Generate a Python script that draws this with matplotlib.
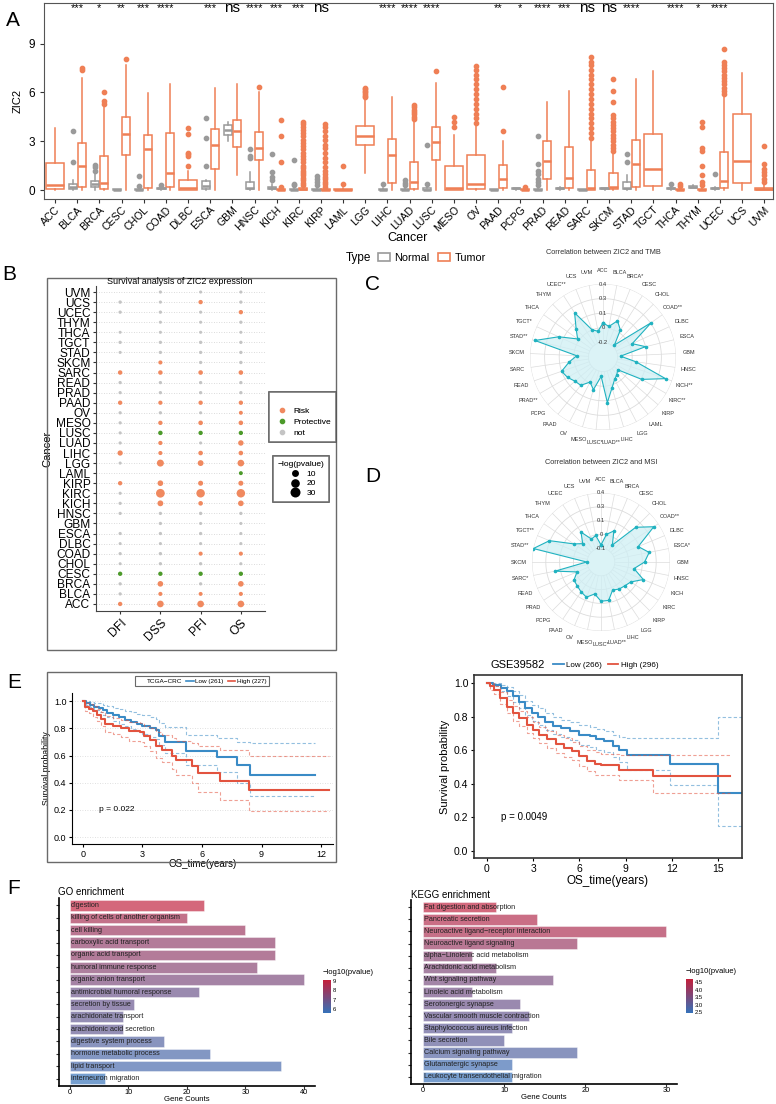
import numpy as np
import matplotlib
matplotlib.use("Agg")
import matplotlib.pyplot as plt
from matplotlib.patches import Rectangle, Patch
from matplotlib.lines import Line2D
from matplotlib.colors import LinearSegmentedColormap, Normalize
from matplotlib.cm import ScalarMappable

plt.rcParams['font.family'] = ['Liberation Sans', 'DejaVu Sans']

# ---------------- data: panel A (expression boxplots) ----------------
cancers = ["ACC", "BLCA", "BRCA", "CESC", "CHOL", "COAD", "DLBC", "ESCA", "GBM", "HNSC",
           "KICH", "KIRC", "KIRP", "LAML", "LGG", "LIHC", "LUAD", "LUSC", "MESO", "OV",
           "PAAD", "PCPG", "PRAD", "READ", "SARC", "SKCM", "STAD", "TGCT", "THCA", "THYM",
           "UCEC", "UCS", "UVM"]
signif = ["", "***", "*", "**", "***", "****", "", "***", "ns", "****",
          "***", "***", "ns", "", "", "****", "****", "****", "", "",
          "**", "*", "****", "***", "ns", "ns", "****", "", "****", "*",
          "****", "", ""]
# (whislo, q1, median, q3, whishi)
tumor_box = {
    "ACC": (0, 0.05, 0.3, 1.65, 3.8), "BLCA": (0, 0.2, 1.5, 2.9, 6.9),
    "BRCA": (0, 0.08, 0.45, 2.1, 5.1), "CESC": (0, 2.15, 3.45, 4.5, 7.7),
    "CHOL": (0, 0.1, 2.5, 3.4, 5.95), "COAD": (0, 0.2, 1.05, 3.5, 6.5),
    "DLBC": (0, 0.0, 0.1, 0.6, 1.2), "ESCA": (0, 1.3, 2.8, 3.75, 6.3),
    "GBM": (0.9, 2.65, 3.65, 4.3, 6.5), "HNSC": (0, 1.85, 2.6, 3.55, 6.0),
    "KICH": (0, 0.0, 0.02, 0.06, 0.1), "KIRC": (0, 0.0, 0.05, 0.1, 0.2),
    "KIRP": (0, 0.0, 0.02, 0.05, 0.1), "LAML": (0, 0.0, 0.03, 0.08, 0.15),
    "LGG": (1.05, 2.8, 3.3, 3.95, 5.6), "LIHC": (0, 0.45, 2.15, 3.15, 5.7),
    "LUAD": (0, 0.05, 0.5, 1.75, 4.2), "LUSC": (0, 1.85, 2.95, 3.9, 6.6),
    "MESO": (0, 0.0, 0.15, 1.5, 3.4), "OV": (0, 0.05, 0.4, 2.15, 4.0),
    "PAAD": (0, 0.15, 0.7, 1.55, 3.0), "PCPG": (0, 0.0, 0.0, 0.05, 0.15),
    "PRAD": (0, 0.65, 1.8, 3.0, 5.4), "READ": (0, 0.15, 0.75, 2.65, 6.1),
    "SARC": (0, 0.0, 0.15, 1.25, 3.0), "SKCM": (0, 0.05, 0.2, 1.05, 2.2),
    "STAD": (0, 0.2, 1.6, 3.1, 6.8), "TGCT": (0, 0.25, 1.3, 3.45, 7.3),
    "THCA": (0, 0.0, 0.02, 0.05, 0.1), "THYM": (0, 0.0, 0.02, 0.05, 0.1),
    "UCEC": (0, 0.1, 0.55, 2.35, 5.8), "UCS": (0, 0.45, 1.8, 4.7, 7.2),
    "UVM": (0, 0.0, 0.05, 0.15, 0.3),
}
tumor_out = {
    "BLCA": [7.4, 7.5], "BRCA": [5.3, 5.45, 6.0], "CESC": [8.05],
    "DLBC": [1.45, 2.1, 2.2, 2.25, 3.45, 3.8], "HNSC": [6.35],
    "KICH": [0.2, 1.7, 3.3, 4.3],
    "KIRC": [0.3, 0.45, 0.6, 0.75, 0.9, 1.05, 1.2, 1.35, 1.5, 1.7, 1.9, 2.1, 2.3, 2.5,
             2.7, 2.9, 3.1, 3.3, 3.5, 3.7, 3.9, 4.05, 4.2],
    "KIRP": [0.2, 0.35, 0.5, 0.65, 0.8, 1.0, 1.2, 1.4, 1.7, 2.0, 2.3, 2.6, 2.8, 3.1,
             3.3, 3.6, 3.85, 4.05],
    "LAML": [0.4, 1.5], "LGG": [5.7, 5.8, 5.9, 6.0, 6.1, 6.2, 6.3],
    "LUAD": [4.35, 4.5, 4.65, 4.8, 4.95, 5.1, 5.25], "LUSC": [7.3],
    "MESO": [3.9, 4.2, 4.5],
    "OV": [4.1, 4.4, 4.7, 5.0, 5.3, 5.6, 5.9, 6.2, 6.5, 6.8, 7.1, 7.4, 7.6],
    "PAAD": [3.6, 6.35], "PCPG": [0.2],
    "SARC": [3.2, 3.5, 3.8, 4.1, 4.4, 4.7, 5.0, 5.3, 5.6, 5.9, 6.2, 6.5, 6.8, 7.1, 7.4,
             7.7, 7.9, 8.2],
    "SKCM": [2.4, 2.6, 2.8, 3.0, 3.2, 3.4, 3.6, 3.8, 4.0, 4.2, 4.4, 4.6, 5.4, 6.1, 6.8],
    "THCA": [0.25, 0.35], "THYM": [0.3, 0.5, 0.9, 1.5, 2.4, 2.6, 3.9, 4.2],
    "UCEC": [5.9, 6.1, 6.3, 6.5, 6.7, 6.9, 7.1, 7.3, 7.5, 7.7, 7.9, 8.7],
    "UVM": [0.5, 0.7, 0.9, 1.1, 1.3, 1.6, 2.7],
}
normal_box = {
    "BLCA": (0, 0.05, 0.2, 0.4, 0.6), "BRCA": (0, 0.2, 0.35, 0.55, 1.0),
    "CESC": (0, 0.0, 0.03, 0.06, 0.08), "CHOL": (0, 0.0, 0.02, 0.06, 0.1),
    "COAD": (0, 0.05, 0.1, 0.15, 0.2), "ESCA": (0, 0.05, 0.25, 0.55, 0.6),
    "GBM": (3.0, 3.4, 3.7, 4.0, 4.2), "HNSC": (0, 0.05, 0.15, 0.5, 1.1),
    "KICH": (0, 0.05, 0.1, 0.2, 0.4), "KIRC": (0, 0.0, 0.03, 0.08, 0.15),
    "KIRP": (0, 0.0, 0.03, 0.08, 0.15), "LIHC": (0, 0.0, 0.02, 0.05, 0.1),
    "LUAD": (0, 0.0, 0.02, 0.05, 0.1), "LUSC": (0, 0.0, 0.02, 0.1, 0.3),
    "PAAD": (0, 0.0, 0.02, 0.05, 0.08), "PCPG": (0, 0.05, 0.1, 0.12, 0.15),
    "PRAD": (0, 0.0, 0.02, 0.05, 0.1), "READ": (0, 0.05, 0.1, 0.15, 0.2),
    "SARC": (0, 0.0, 0.02, 0.05, 0.08), "SKCM": (0, 0.05, 0.1, 0.12, 0.15),
    "STAD": (0, 0.05, 0.15, 0.5, 0.9), "THCA": (0, 0.05, 0.1, 0.15, 0.3),
    "THYM": (0.1, 0.15, 0.2, 0.25, 0.3), "UCEC": (0, 0.05, 0.1, 0.15, 0.2),
}
normal_out = {
    "BLCA": [1.7, 3.6], "BRCA": [1.2, 1.4, 1.55], "CHOL": [0.25, 0.85], "COAD": [0.3],
    "ESCA": [1.5, 3.2, 4.4], "HNSC": [2.0, 2.1, 2.5], "KICH": [0.6, 0.8, 1.1, 2.2],
    "KIRC": [0.3, 0.4, 1.85], "KIRP": [0.3, 0.5, 0.7, 0.85], "LIHC": [0.35],
    "LUAD": [0.3, 0.45, 0.6], "LUSC": [0.4, 2.8],
    "PRAD": [0.3, 0.5, 0.7, 1.0, 1.2, 1.6, 3.3], "STAD": [1.7, 2.2], "THCA": [0.4],
    "UCEC": [1.0],
}

# ---------------- data: panel B (survival dot plot) ----------------
surv_cancers = ["ACC", "BLCA", "BRCA", "CESC", "CHOL", "COAD", "DLBC", "ESCA", "GBM", "HNSC",
                "KICH", "KIRC", "KIRP", "LAML", "LGG", "LIHC", "LUAD", "LUSC", "MESO", "OV",
                "PAAD", "PRAD", "READ", "SARC", "SKCM", "STAD", "TGCT", "THCA", "THYM", "UCEC",
                "UCS", "UVM"]
endpoints = ["DFI", "DSS", "PFI", "OS"]
# R = risk, P = protective, N = not significant, - = missing
dfi_type = "RNNPNNNN-NNNR-NRNNNNRNNR-NNN-NN-"
dss_type = "RRRPNNNNNNRRR-RRRPRNRNNRRNNNNNNN"
pfi_type = "RRNPNRNNNNRRR-RRNPRNRNNRNNNNNNRN"
os_type = "RRRPNRNNNNRRRPRRRPRRRNNRNNNNNRNN"
dfi_logp = [5, 1.2, 1.2, 5, 0.4, 1.0, 0.4, 1.0, 0, 1.0, 1.0, 0.8, 5, 0, 0.6, 9, 1.0, 0.8,
            1.0, 1.0, 5, 1.0, 1.2, 5.5, 0, 0.5, 1.2, 0.3, 0, 1.2, 1.5, 0]
dss_logp = [17, 4, 11, 5, 1.2, 1.5, 0.6, 1.2, 1.2, 1.2, 12, 32, 11, 0, 19, 4, 4.5, 5.5,
            5, 1.2, 4.5, 1.2, 1.2, 5.5, 4, 1.2, 1.2, 0.6, 0.6, 1.2, 0.8, 0.8]
pfi_logp = [17, 3.5, 1.2, 5, 1.2, 4, 0.6, 1.2, 0.6, 1.5, 6, 30, 8, 0, 12, 6, 0.6, 5,
            6, 0.6, 5, 1.2, 1.2, 6, 1.2, 1.2, 1.5, 0.6, 0.6, 0.8, 5, 0.6]
os_logp = [17, 4, 11, 5, 0.6, 4, 0.6, 0.6, 0.6, 1.2, 11, 30, 8, 3.5, 17, 6, 10, 5,
           6, 3.5, 5, 1.2, 1.2, 6, 1.5, 1.2, 1.2, 0.5, 1.2, 5, 1.2, 0.6]

# ---------------- data: panels C, D (radar) ----------------
tmb_labels = ["ACC", "BLCA", "BRCA*", "CESC", "CHOL", "COAD**", "DLBC", "ESCA", "GBM", "HNSC",
              "KICH**", "KIRC**", "KIRP", "LAML", "LGG", "LIHC", "LUAD**", "LUSC*", "MESO", "OV",
              "PAAD", "PCPG", "PRAD**", "READ", "SARC", "SKCM", "STAD**", "TGCT*", "THCA", "THYM",
              "UCEC**", "UCS", "UVM"]
tmb_cor = [0.00, -0.03, 0.05, -0.02, -0.18, 0.26, -0.02, 0.10, -0.17, -0.01, 0.33, 0.11,
           -0.15, -0.12, -0.09, -0.02, 0.12, -0.15, 0.00, -0.06, 0.02, 0.03, 0.07, 0.10,
           0.00, -0.08, 0.37, 0.15, -0.03, 0.05, 0.19, -0.05, -0.08]
msi_labels = ["ACC", "BLCA", "BRCA", "CESC", "CHOL", "COAD**", "DLBC", "ESCA*", "GBM", "HNSC",
              "KICH", "KIRC", "KIRP", "LGG", "LIHC", "LUAD**", "LUSC*", "MESO", "OV", "PAAD",
              "PCPG", "PRAD", "READ", "SARC*", "SKCM", "STAD**", "TGCT**", "THCA", "THYM", "UCEC",
              "UCS", "UVM"]
msi_cor = [-0.07, 0.03, 0.08, -0.04, 0.22, 0.35, 0.14, 0.22, 0.17, 0.08, 0.19, 0.10,
           0.08, 0.07, 0.05, 0.13, 0.13, 0.07, 0.12, 0.10, 0.08, 0.07, 0.01, 0.20,
           -0.095, 0.40, 0.28, 0.07, 0.01, 0.10, 0.00, 0.02]

# ---------------- data: panel E (Kaplan-Meier) ----------------
tc_low_t = [0, 0.15, 0.35, 0.55, 0.8, 1.0, 1.2, 1.5, 1.8, 2.1, 2.4, 2.7, 3.0, 3.4, 3.7,
            3.85, 4.15, 5.2, 6.75, 7.75, 8.4, 11.7]
tc_low_s = [1.0, 0.985, 0.975, 0.96, 0.95, 0.935, 0.915, 0.895, 0.88, 0.865, 0.85, 0.835,
            0.82, 0.80, 0.79, 0.745, 0.70, 0.63, 0.59, 0.53, 0.455, 0.455]
tc_low_up = [1.0, 1.0, 0.995, 0.99, 0.985, 0.975, 0.965, 0.95, 0.94, 0.93, 0.92, 0.905,
             0.895, 0.88, 0.87, 0.84, 0.81, 0.75, 0.73, 0.70, 0.695, 0.695]
tc_low_lo = [1.0, 0.97, 0.955, 0.935, 0.92, 0.90, 0.88, 0.855, 0.835, 0.815, 0.795, 0.78,
             0.76, 0.74, 0.725, 0.675, 0.62, 0.53, 0.48, 0.40, 0.30, 0.30]
tc_high_t = [0, 0.1, 0.3, 0.5, 0.7, 0.9, 1.1, 1.5, 1.9, 2.3, 2.9, 3.1, 3.4, 3.7, 4.0,
             4.5, 4.7, 5.5, 5.8, 6.9, 8.35, 12.4]
tc_high_s = [1.0, 0.96, 0.945, 0.925, 0.90, 0.87, 0.83, 0.815, 0.80, 0.78, 0.77, 0.745,
             0.715, 0.67, 0.64, 0.60, 0.57, 0.52, 0.47, 0.41, 0.345, 0.345]
tc_high_up = [1.0, 0.99, 0.98, 0.965, 0.945, 0.92, 0.89, 0.875, 0.865, 0.85, 0.84, 0.82,
              0.80, 0.77, 0.75, 0.73, 0.71, 0.69, 0.67, 0.64, 0.60, 0.60]
tc_high_lo = [1.0, 0.93, 0.91, 0.885, 0.855, 0.82, 0.775, 0.755, 0.735, 0.71, 0.70, 0.67,
              0.635, 0.585, 0.55, 0.50, 0.46, 0.40, 0.335, 0.27, 0.195, 0.195]

gs_low_t = [0, 0.4, 0.9, 1.3, 1.7, 2.1, 2.5, 2.9, 3.3, 3.8, 4.3, 4.8, 5.4, 6.0, 6.7, 7.1,
            7.6, 8.2, 8.6, 9.1, 11.9, 15.0, 16.6]
gs_low_s = [1.0, 0.99, 0.97, 0.95, 0.92, 0.89, 0.85, 0.82, 0.80, 0.77, 0.745, 0.73, 0.715,
            0.69, 0.685, 0.665, 0.655, 0.625, 0.60, 0.57, 0.515, 0.345, 0.345]
gs_low_up = [1.0, 1.0, 0.99, 0.975, 0.955, 0.93, 0.895, 0.87, 0.85, 0.82, 0.795, 0.78,
             0.77, 0.75, 0.74, 0.725, 0.715, 0.69, 0.68, 0.67, 0.67, 0.80, 0.80]
gs_low_lo = [1.0, 0.98, 0.95, 0.925, 0.89, 0.85, 0.81, 0.775, 0.75, 0.72, 0.695, 0.68,
             0.66, 0.63, 0.62, 0.60, 0.59, 0.56, 0.53, 0.48, 0.395, 0.15, 0.15]
gs_high_t = [0, 0.2, 0.45, 0.85, 1.3, 1.7, 2.1, 2.6, 3.0, 3.4, 3.9, 4.5, 5.0, 5.5, 6.0,
             6.5, 7.0, 7.4, 8.6, 10.8, 15.8]
gs_high_s = [1.0, 0.98, 0.96, 0.91, 0.86, 0.82, 0.79, 0.75, 0.72, 0.69, 0.665, 0.635,
             0.615, 0.595, 0.565, 0.535, 0.515, 0.51, 0.485, 0.445, 0.445]
gs_high_up = [1.0, 1.0, 0.985, 0.945, 0.90, 0.865, 0.835, 0.795, 0.77, 0.74, 0.715, 0.69,
              0.67, 0.65, 0.625, 0.60, 0.59, 0.58, 0.57, 0.57, 0.57]
gs_high_lo = [1.0, 0.96, 0.935, 0.875, 0.82, 0.775, 0.745, 0.705, 0.675, 0.64, 0.615,
              0.585, 0.56, 0.54, 0.505, 0.475, 0.455, 0.45, 0.42, 0.345, 0.345]

# ---------------- data: panel F (enrichment) ----------------
go_terms = ["digestion", "killing of cells of another organism", "cell killing",
            "carboxylic acid transport", "organic acid transport", "humoral immune response",
            "organic anion transport", "antimicrobial humoral response", "secretion by tissue",
            "arachidonate transport", "arachidonic acid secretion", "digestive system process",
            "hormone metabolic process", "lipid transport", "interneuron migration"]
go_counts = [23, 20, 30, 35, 35, 32, 40, 22, 11, 9, 9, 16, 24, 36, 6]
go_logp = [9.0, 8.4, 8.1, 7.8, 7.8, 7.6, 7.3, 6.9, 6.8, 6.7, 6.7, 6.3, 6.1, 6.0, 5.6]
kegg_terms = ["Fat digestion and absorption", "Pancreatic secretion",
              "Neuroactive ligand\u2212receptor interaction", "Neuroactive ligand signaling",
              "alpha\u2212Linolenic acid metabolism", "Arachidonic acid metabolism",
              "Wnt signaling pathway", "Linoleic acid metabolism", "Serotonergic synapse",
              "Vascular smooth muscle contraction", "Staphylococcus aureus infection",
              "Bile secretion", "Calcium signaling pathway", "Glutamatergic synapse",
              "Leukocyte transendothelial migration"]
kegg_counts = [9, 14, 30, 19, 6, 9, 16, 6, 12, 13, 11, 10, 19, 11, 11]
kegg_logp = [4.6, 4.4, 4.3, 4.0, 3.7, 3.6, 3.5, 3.4, 3.3, 3.2, 3.1, 3.05, 2.9, 2.6, 2.5]

# ================= figure =================
W, H = 776, 1104
fig = plt.figure(figsize=(W / 100, H / 100), dpi=100)


def px_axes(x0, y0, x1, y1, **kw):
    return fig.add_axes([x0 / W, 1 - y1 / H, (x1 - x0) / W, (y1 - y0) / H], **kw)


def fx(x):
    return x / W


def fy(y):
    return 1 - y / H


def px_frame(x0, y0, x1, y1, col="#6a6a6a", lw=1.0):
    fig.add_artist(Rectangle((fx(x0), fy(y1)), (x1 - x0) / W, (y1 - y0) / H,
                             transform=fig.transFigure, fill=False, ec=col, lw=lw))


for lab, x, y in [("A", 13, 20), ("B", 9, 275), ("C", 373, 284), ("D", 373, 476),
                  ("E", 14, 683), ("F", 14, 888)]:
    fig.text(fx(x), fy(y), lab, fontsize=15, ha="center", va="center")

# ---------------- panel A ----------------
TUM, NOR = "#EF7F55", "#9A9A9A"
axA = px_axes(44, 3, 773, 199)


def box_stats(v, fl):
    lo, q1, md, q3, hi = v
    return dict(whislo=lo, q1=q1, med=md, q3=q3, whishi=hi, fliers=fl)


def draw_boxes(ax, stats, pos, wid, col):
    ax.bxp(stats, positions=pos, widths=wid, patch_artist=True, showcaps=False,
           boxprops=dict(facecolor="white", edgecolor=col, linewidth=1.1),
           whiskerprops=dict(color=col, linewidth=1.1),
           medianprops=dict(color=col, linewidth=1.8),
           flierprops=dict(marker="o", markerfacecolor=col, markeredgecolor=col,
                           markersize=3.1, linestyle="none"))


n_stats, n_pos, t_stats, t_pos, t_wid = [], [], [], [], []
for i, c in enumerate(cancers):
    if c in normal_box:
        n_stats.append(box_stats(normal_box[c], normal_out.get(c, [])))
        n_pos.append(i - 0.2)
        t_pos.append(i + 0.2)
        t_wid.append(0.37)
    else:
        t_pos.append(i)
        t_wid.append(0.8)
    t_stats.append(box_stats(tumor_box[c], tumor_out.get(c, [])))
draw_boxes(axA, n_stats, n_pos, 0.37, NOR)
draw_boxes(axA, t_stats, t_pos, t_wid, TUM)
axA.set_xlim(-0.5, 32.4)
axA.set_ylim(-0.55, 11.5)
axA.set_yticks([0, 3, 6, 9])
axA.set_xticks(range(len(cancers)))
axA.set_xticklabels(cancers, rotation=45, ha="right", rotation_mode="anchor", fontsize=7.6)
axA.tick_params(axis="y", labelsize=8.5)
axA.tick_params(axis="x", pad=1)
axA.tick_params(length=3, color="#333333")
axA.set_ylabel("ZIC2", fontsize=8, labelpad=4)
for sp in axA.spines.values():
    sp.set_color("#555555")
for i, s in enumerate(signif):
    if s:
        axA.text(i, 11.2, s, ha="center", va="center", fontsize=11 if s == "ns" else 8,
                 clip_on=False)
fig.text(fx(408), fy(238), "Cancer", fontsize=9, ha="center", va="center")
fig.text(fx(346), fy(258), "Type", fontsize=8.5, ha="left", va="center")
fig.legend(handles=[Patch(facecolor="white", edgecolor=NOR, lw=1.2),
                    Patch(facecolor="white", edgecolor=TUM, lw=1.2)],
           labels=["Normal", "Tumor"], ncol=2, loc="center left", frameon=False,
           bbox_to_anchor=(fx(376), fy(258)), fontsize=7.8, handlelength=1.1,
           handleheight=0.7, columnspacing=0.8, handletextpad=0.4, borderaxespad=0,
           borderpad=0.2)

# ---------------- panel B ----------------
px_frame(47, 278, 336, 650)
fig.text(fx(180), fy(282), "Survival analysis of ZIC2 expression", fontsize=6.5,
         ha="center", va="center")
axB = px_axes(96, 286, 265, 611)
RISK, PROT, NOTS = "#F0895F", "#4C9A2A", "#C4C4C4"
cmap_type = {"R": RISK, "P": PROT, "N": NOTS}


def dot_px(v):
    d = np.sqrt(8.4 + 2.12 * v)
    return (d * 0.72) ** 2


for i in range(len(surv_cancers)):
    axB.axhline(i, color="#cfcfcf", lw=0.6, ls=(0, (1, 2)), zorder=0)
for j, (typ, lp) in enumerate(zip([dfi_type, dss_type, pfi_type, os_type],
                                  [dfi_logp, dss_logp, pfi_logp, os_logp])):
    xs, ys, cs, ss = [], [], [], []
    for i, (t, v) in enumerate(zip(typ, lp)):
        if t == "-":
            continue
        xs.append(j + 1)
        ys.append(i)
        cs.append(cmap_type[t])
        ss.append(dot_px(v))
    axB.scatter(xs, ys, c=cs, s=ss, linewidths=0, zorder=3)
axB.set_xlim(0.4, 4.6)
axB.set_ylim(-0.7, 31.6)
axB.set_yticks(range(len(surv_cancers)))
axB.set_yticklabels(surv_cancers, fontsize=8.6)
axB.set_xticks([1, 2, 3, 4])
axB.set_xticklabels(endpoints, rotation=45, ha="right", rotation_mode="anchor", fontsize=8.8)
axB.tick_params(length=2.5, color="#333333", pad=1.5)
axB.spines["top"].set_visible(False)
axB.spines["right"].set_visible(False)
axB.spines["left"].set_color("#444444")
axB.spines["bottom"].set_color("#444444")
axB.set_ylabel("Cancer", fontsize=8, labelpad=2)

legB1 = fig.legend(handles=[Line2D([], [], marker="o", ls="none", color=c, ms=3)
                            for c in (RISK, PROT, NOTS)],
                   labels=["Risk", "Protective", "not"], title=" ",
                   loc="center", bbox_to_anchor=(fx(302.5), fy(417)), fontsize=6,
                   title_fontsize=6, fancybox=False, edgecolor="#555555",
                   handletextpad=0.3, labelspacing=0.35, borderpad=0.6)
legB1.get_frame().set_linewidth(1.1)
legB2 = fig.legend(handles=[Line2D([], [], marker="o", ls="none", color="black",
                                   ms=np.sqrt(dot_px(v)))
                            for v in (10, 20, 30)],
                   labels=["10", "20", "30"], title="\u2212log(pvalue)",
                   loc="center", bbox_to_anchor=(fx(301), fy(479)), fontsize=6,
                   title_fontsize=6, fancybox=False, edgecolor="#555555",
                   handletextpad=0.4, labelspacing=0.25, borderpad=0.5)
legB2.get_frame().set_linewidth(1.1)
fig.add_artist(legB1)

# ---------------- panels C, D ----------------
LINE_C, FILL_C = "#20B2C0", "#CFEFF4"


def radar(rect, labels, vals, vmin, vmax, ring_txt, title, title_xy):
    ax = px_axes(*rect, projection="polar")
    n = len(labels)
    theta = np.arange(n) * 2 * np.pi / n
    ax.set_theta_zero_location("N")
    ax.set_theta_direction(-1)
    ax.set_ylim(vmin - (vmax - vmin) / 4, vmax)
    ax.grid(False)
    ax.spines["polar"].set_visible(False)
    ax.set_yticks([])
    ax.set_xticks(theta)
    ax.set_xticklabels(labels, fontsize=4.0, color="#333333")
    ax.tick_params(axis="x", pad=-1)
    ax.patch.set_alpha(0)
    rings = np.linspace(vmin, vmax, 5)
    circ = np.linspace(0, 2 * np.pi, 240)
    for r in rings:
        ax.plot(circ, np.full_like(circ, r), color="#dcdcdc", lw=0.6, zorder=1)
    for t in theta:
        ax.plot([t, t], [vmin, vmax], color="#dcdcdc", lw=0.5, zorder=1)
    tt = np.append(theta, theta[0])
    vv = np.append(vals, vals[0])
    ax.fill(tt, vv, color=FILL_C, alpha=0.75, zorder=2, lw=0)
    ax.plot(tt, vv, color=LINE_C, lw=0.8, marker="o", ms=1.6, zorder=3)
    for r, s in zip(rings, ring_txt):
        ax.text(0, r, s, fontsize=4.2, ha="center", va="center", color="#333333", zorder=4)
    fig.text(fx(title_xy[0]), fy(title_xy[1]), title, fontsize=5.3, ha="center", va="center",
             color="#333333")


radar((530, 284, 676, 430), tmb_labels, tmb_cor, -0.2, 0.4,
      ["-0.2", "0", "0.1", "0.3", "0.4"], "Correlation between ZIC2 and TMB", (603, 253))
radar((532, 493, 670, 631), msi_labels, msi_cor, -0.1, 0.4,
      ["-0.1", "0", "0.1", "0.3", "0.4"], "Correlation between ZIC2 and MSI", (601, 462))

# ---------------- panel E ----------------
LOW_C, HIGH_C = "#3A8BC6", "#E2533F"

px_frame(47, 672, 336, 862)
axE1 = px_axes(72, 693, 333, 844)
for t, s, up, lo, col in [(tc_low_t, tc_low_s, tc_low_up, tc_low_lo, LOW_C),
                          (tc_high_t, tc_high_s, tc_high_up, tc_high_lo, HIGH_C)]:
    axE1.step(t, up, where="post", color=col, lw=0.8, ls=(0, (3, 2)), alpha=0.55)
    axE1.step(t, lo, where="post", color=col, lw=0.8, ls=(0, (3, 2)), alpha=0.55)
    axE1.step(t, s, where="post", color=col, lw=1.5)
axE1.set_xlim(-0.55, 12.6)
axE1.set_ylim(-0.05, 1.06)
axE1.set_xticks([0, 3, 6, 9, 12])
axE1.set_yticks([0, 0.2, 0.4, 0.6, 0.8, 1.0])
axE1.set_yticklabels(["0.0", "0.2", "0.4", "0.6", "0.8", "1.0"])
for yv in [0, 0.2, 0.4, 0.6, 0.8, 1.0]:
    axE1.axhline(yv, color="#d6d6d6", lw=0.6, ls=(0, (1, 2)), zorder=0)
axE1.tick_params(labelsize=6.5, length=2.5, pad=1.5)
axE1.spines["top"].set_visible(False)
axE1.spines["right"].set_visible(False)
axE1.set_ylabel("Survival probability", fontsize=6.3, labelpad=2)
axE1.set_xlabel("OS_time(years)", fontsize=7, labelpad=0)
axE1.text(0.8, 0.2, "p = 0.022", fontsize=6, va="center")
legE1 = fig.legend(handles=[Line2D([], [], color="none"), Line2D([], [], color=LOW_C, lw=1.2),
                            Line2D([], [], color=HIGH_C, lw=1.2)],
                   labels=["TCGA\u2212CRC", "Low (261)", "High (227)"], ncol=3, loc="center",
                   bbox_to_anchor=(fx(202), fy(681)), fontsize=4.6, fancybox=False,
                   edgecolor="#444444", handlelength=1.2, handletextpad=0.3,
                   columnspacing=0.6, borderpad=0.35)
legE1.get_frame().set_linewidth(0.8)
fig.add_artist(legB2)

axE2 = px_axes(474, 675, 742, 858)
for t, s, up, lo, col in [(gs_low_t, gs_low_s, gs_low_up, gs_low_lo, LOW_C),
                          (gs_high_t, gs_high_s, gs_high_up, gs_high_lo, HIGH_C)]:
    axE2.step(t, up, where="post", color=col, lw=0.8, ls=(0, (3, 2)), alpha=0.55)
    axE2.step(t, lo, where="post", color=col, lw=0.8, ls=(0, (3, 2)), alpha=0.55)
    axE2.step(t, s, where="post", color=col, lw=1.5)
axE2.set_xlim(-0.84, 16.56)
axE2.set_ylim(-0.042, 1.048)
axE2.set_xticks([0, 3, 6, 9, 12, 15])
axE2.set_yticks([0, 0.2, 0.4, 0.6, 0.8, 1.0])
axE2.set_yticklabels(["0.0", "0.2", "0.4", "0.6", "0.8", "1.0"])
axE2.tick_params(labelsize=7.5, length=2.5, pad=1.5)
for sp in axE2.spines.values():
    sp.set_linewidth(1.2)
    sp.set_color("#333333")
axE2.set_ylabel("Survival probability", fontsize=8, labelpad=3)
axE2.set_xlabel("OS_time(years)", fontsize=8.5, labelpad=1)
axE2.text(0.9, 0.2, "p = 0.0049", fontsize=7, va="center")
fig.text(fx(545), fy(665), "GSE39582", fontsize=8, ha="right", va="center")
fig.legend(handles=[Line2D([], [], color=LOW_C, lw=1.3), Line2D([], [], color=HIGH_C, lw=1.3)],
           labels=["Low (266)", "High (296)"], ncol=2, loc="center left", frameon=False,
           bbox_to_anchor=(fx(546), fy(665)), fontsize=5.8, handlelength=1.3,
           handletextpad=0.3, columnspacing=0.7)

# ---------------- panel F ----------------
ENR = LinearSegmentedColormap.from_list("enr", ["#3572B9", "#C41E3A"])


def enrich(rect, terms, counts, logp, xlim, xticks, cb_rect, cb_lim, cb_ticks, title,
           title_xy):
    ax = px_axes(*rect)
    norm = Normalize(*cb_lim)
    y = np.arange(len(terms))
    ax.barh(y, counts, height=0.85, color=ENR(norm(np.array(logp))), alpha=0.68,
            edgecolor="white", lw=0.4)
    for yi, t in zip(y, terms):
        ax.text(0.1, yi, t, fontsize=5.2, va="center", ha="left", color="#222222")
    ax.set_ylim(len(terms) - 0.4, -0.6)
    ax.set_xlim(*xlim)
    ax.set_xticks(xticks)
    ax.set_yticks(y)
    ax.set_yticklabels([])
    ax.tick_params(labelsize=5.3, length=2, pad=0.5, color="#333333")
    ax.spines["top"].set_visible(False)
    ax.spines["right"].set_visible(False)
    ax.spines["left"].set_linewidth(1.2)
    ax.spines["bottom"].set_linewidth(1.2)
    ax.set_xlabel("Gene Counts", fontsize=5.6, labelpad=0)
    fig.text(fx(title_xy[0]), fy(title_xy[1]), title, fontsize=7, ha="left", va="center")
    cax = px_axes(*cb_rect)
    cb = fig.colorbar(ScalarMappable(norm=norm, cmap=ENR), cax=cax, ticks=cb_ticks)
    cb.outline.set_visible(False)
    cb.ax.tick_params(labelsize=4.2, length=0, pad=1)
    fig.text(fx(cb_rect[0]), fy(cb_rect[1] - 4), "\u2212log10(pvalue)", fontsize=5.5,
             ha="left", va="bottom")


enrich((59, 898, 315, 1086), go_terms, go_counts, go_logp, (-1.88, 41.9), [0, 10, 20, 30, 40],
       (323, 980, 331, 1013), (5.6, 9.1), [6, 7, 8, 9], "GO enrichment", (58, 892))
enrich((411, 900, 677, 1084), kegg_terms, kegg_counts, kegg_logp, (-1.48, 31.3),
       [0, 10, 20, 30], (686, 979, 693, 1013), (2.45, 4.7), [2.5, 3.0, 3.5, 4.0, 4.5],
       "KEGG enrichment", (411, 895))

fig.savefig("out.png", dpi=100)
